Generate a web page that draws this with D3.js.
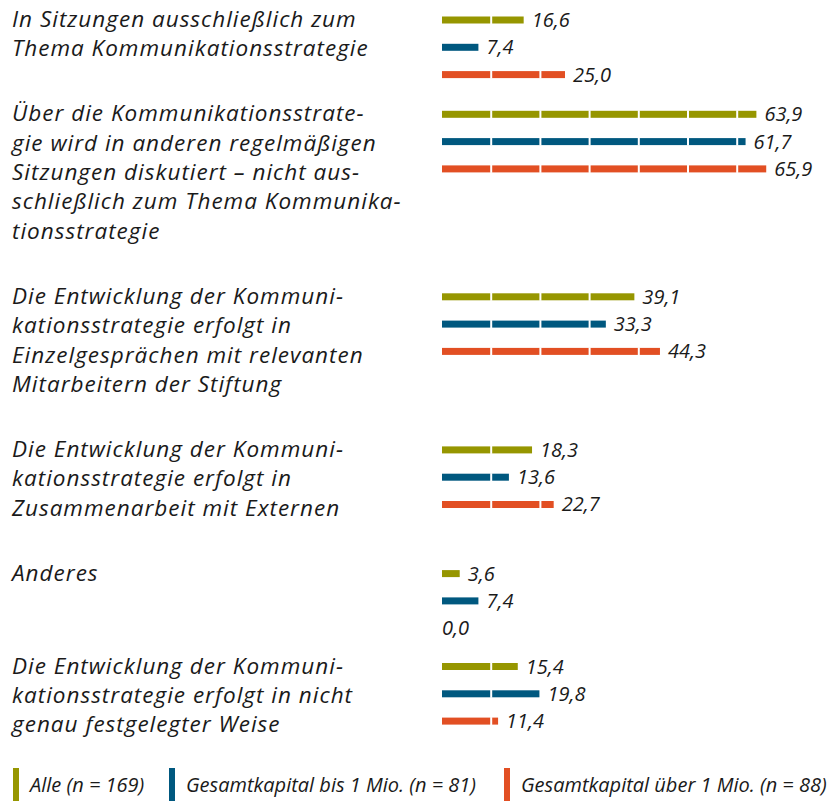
<!DOCTYPE html>
<html lang="de">
<head>
<meta charset="UTF-8">
<title>Kommunikationsstrategie</title>
<style>
  body { margin: 0; background: #fff; }
  svg text { font-family: "Open Sans", sans-serif; font-style: italic; fill: #1a1a1a; }
</style>
</head>
<body>
<script src="https://cdnjs.cloudflare.com/ajax/libs/d3/7.8.5/d3.min.js"></script>
<script>
// category labels, one entry per line as in the original layout
var categories = [
  ["In Sitzungen ausschließlich zum", "Thema Kommunikationsstrategie"],
  ["Über die Kommunikationsstrate-", "gie wird in anderen regelmäßigen", "Sitzungen diskutiert – nicht aus-", "schließlich zum Thema Kommunika-", "tionsstrategie"],
  ["Die Entwicklung der Kommuni-", "kationsstrategie erfolgt in", "Einzelgesprächen mit relevanten", "Mitarbeitern der Stiftung"],
  ["Die Entwicklung der Kommuni-", "kationsstrategie erfolgt in", "Zusammenarbeit mit Externen"],
  ["Anderes"],
  ["Die Entwicklung der Kommuni-", "kationsstrategie erfolgt in nicht", "genau festgelegter Weise"]
];
var seriesNames = ["Alle (n = 169)", "Gesamtkapital bis 1 Mio. (n = 81)", "Gesamtkapital über 1 Mio. (n = 88)"];
var alle   = [16.6, 63.9, 39.1, 18.3, 3.6, 15.4];
var bis1   = [7.4, 61.7, 33.3, 13.6, 7.4, 19.8];
var ueber1 = [25.0, 65.9, 44.3, 22.7, 0.0, 11.4];
var segmentTicks = [10, 20, 30, 40, 50, 60];

var colors = ["#969600", "#00587f", "#e24f23"];
var series = [alle, bis1, ueber1];

var width = 829, height = 802;
var svg = d3.select("body").append("svg").attr("width", width).attr("height", height);

var x = d3.scaleLinear().domain([0, 70]).range([442, 786.4]);

// vertical layout: each group takes the room of its text or its three bars
var lineH = 29.4, barStep = 27.3, barH = 7;
var starts = [];
var yy = 20;
categories.forEach(function(lines) {
  starts.push(yy);
  yy += Math.max(lines.length * lineH + 35.5, 3 * barStep + 11);
});

var fmt = function(v) { return d3.format(".1f")(v).replace(".", ","); };

var groups = svg.selectAll("g.group").data(categories).enter().append("g")
  .attr("class", "group")
  .attr("transform", function(d, i) { return "translate(0," + starts[i] + ")"; });

// labels
groups.append("text")
  .attr("x", 12)
  .attr("font-size", 22.5)
  .attr("letter-spacing", 1)
  .selectAll("tspan").data(function(d) { return d; }).enter().append("tspan")
  .attr("x", 12)
  .attr("y", function(d, i) { return i * lineH + 7; })
  .text(function(d) { return d; });

groups.each(function(lines, gi) {
  var g = d3.select(this);
  series.forEach(function(s, si) {
    var v = s[gi];
    var cy = si * barStep;
    if (v > 0) {
      g.append("rect")
        .attr("x", x(0))
        .attr("y", cy - barH / 2)
        .attr("width", x(v) - x(0))
        .attr("height", barH)
        .attr("fill", colors[si]);
      // white gaps every 10 units
      segmentTicks.filter(function(t) { return t < v; }).forEach(function(t) {
        g.append("rect")
          .attr("x", x(t) - 1)
          .attr("y", cy - barH / 2 - 0.5)
          .attr("width", 2)
          .attr("height", barH + 1)
          .attr("fill", "#fff");
      });
    }
    g.append("text")
      .attr("x", v > 0 ? x(v) + 8 : x(0))
      .attr("y", cy + 7)
      .attr("font-size", 20)
      .text(fmt(v));
  });
});

// legend
var legX = [13, 169, 504];
var leg = svg.selectAll("g.legend").data(seriesNames).enter().append("g")
  .attr("class", "legend")
  .attr("transform", function(d, i) { return "translate(" + legX[i] + ",768)"; });
leg.append("rect").attr("width", 6).attr("height", 33).attr("fill", function(d, i) { return colors[i]; });
leg.append("text").attr("x", 17).attr("y", 24).attr("font-size", 20).text(function(d) { return d; });
</script>
</body>
</html>
